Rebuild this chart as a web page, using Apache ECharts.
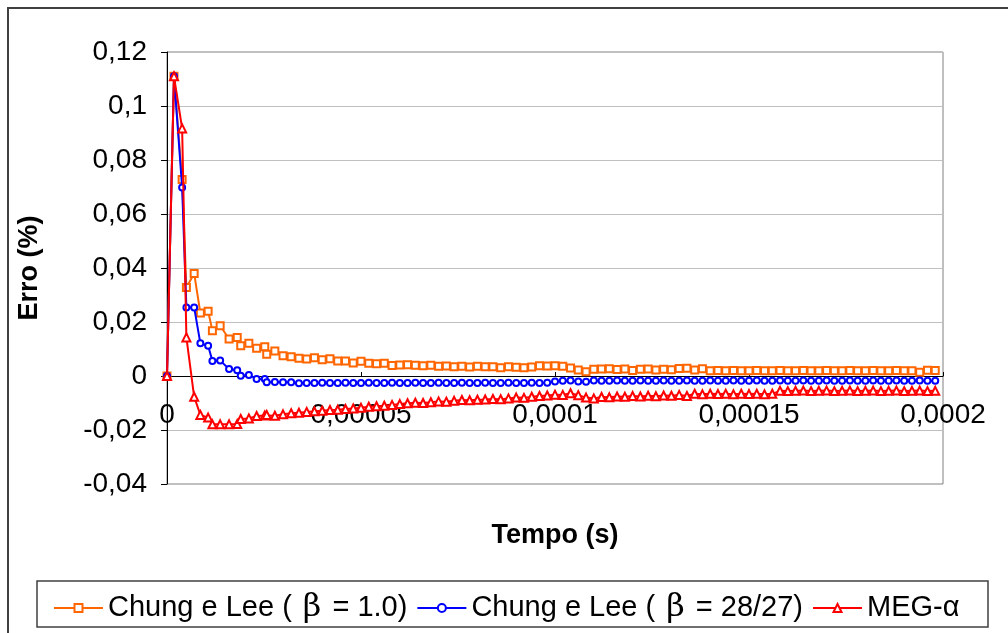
<!DOCTYPE html>
<html>
<head>
<meta charset="utf-8">
<script src="https://cdn.jsdelivr.net/npm/echarts@6/dist/echarts.min.js"></script>
<style>
  html, body { margin: 0; padding: 0; background: #fff; }
  #chart { width: 1008px; height: 633px; }
</style>
</head>
<body>
<div id="chart"></div>
<script>
// Time samples in microseconds (axis labels are shown in seconds)
const timeUs = [
    0, 1.8, 3.9, 5.0, 7.0, 8.6, 10.6, 11.7, 13.7, 16.0, 18.1, 19.0, 21.1, 23.1, 25.2, 25.7, 27.8, 29.9,
    32, 34, 36, 38, 40, 42, 44, 46, 48, 50, 52, 54, 56, 58, 60, 62, 64, 66, 68, 70,
    72, 74, 76, 78, 80, 82, 84, 86, 88, 90, 92, 94, 96, 98, 100, 102, 104, 106, 108, 110,
    112, 114, 116, 118, 120, 122, 124, 126, 128, 130, 132, 134, 136, 138, 140, 142, 144, 146, 148, 150,
    152, 154, 156, 158, 160, 162, 164, 166, 168, 170, 172, 174, 176, 178, 180, 182, 184, 186, 188, 190,
    192, 194, 196, 198
];

// Chung e Lee (beta = 1.0)
const errChung10 = [
    0, 0.111, 0.0728, 0.0328, 0.0380, 0.0233, 0.0240, 0.0168, 0.0186, 0.0137, 0.0143, 0.0112, 0.0121, 0.0103, 0.0108, 0.0081, 0.0093, 0.0075,
    0.0071, 0.0066, 0.0063, 0.0068, 0.0060, 0.0064, 0.0056, 0.0056, 0.0048, 0.0055, 0.0047, 0.0045, 0.0047, 0.0039, 0.0041, 0.0042, 0.0040, 0.0038, 0.0040, 0.0036,
    0.0037, 0.0034, 0.0036, 0.0033, 0.0036, 0.0034, 0.0034, 0.0031, 0.0034, 0.0032, 0.0031, 0.0033, 0.0038, 0.0037, 0.0038, 0.0036, 0.0030, 0.0022, 0.0016, 0.0025,
    0.0026, 0.0027, 0.0024, 0.0026, 0.0020, 0.0025, 0.0026, 0.0022, 0.0025, 0.0023, 0.0028, 0.0029, 0.0022, 0.0027, 0.0019, 0.0020, 0.0019, 0.0020, 0.0019, 0.0019,
    0.0020, 0.0019, 0.0019, 0.0020, 0.0019, 0.0019, 0.0020, 0.0019, 0.0019, 0.0020, 0.0019, 0.0019, 0.0020, 0.0019, 0.0019, 0.0020, 0.0019, 0.0019, 0.0020, 0.0019,
    0.0019, 0.0014, 0.0021, 0.0020
];

// Chung e Lee (beta = 28/27)
const errChung2827 = [
    0, 0.111, 0.0698, 0.0254, 0.0254, 0.0121, 0.0112, 0.0056, 0.0057, 0.0026, 0.0021, 0.0001, 0.0004, -0.0011, -0.0011, -0.0023, -0.0022, -0.0023,
    -0.0023, -0.0027, -0.0026, -0.0026, -0.0025, -0.0026, -0.0026, -0.0025, -0.0026, -0.0026, -0.0025, -0.0026, -0.0026, -0.0025, -0.0026, -0.0026, -0.0025, -0.0026, -0.0026, -0.0025,
    -0.0026, -0.0026, -0.0025, -0.0026, -0.0026, -0.0025, -0.0026, -0.0026, -0.0025, -0.0026, -0.0026, -0.0025, -0.0026, -0.0025, -0.0020, -0.0018, -0.0017, -0.0020, -0.0021, -0.0017,
    -0.0018, -0.0018, -0.0017, -0.0018, -0.0018, -0.0017, -0.0018, -0.0018, -0.0017, -0.0018, -0.0018, -0.0017, -0.0018, -0.0018, -0.0017, -0.0018, -0.0018, -0.0017, -0.0018, -0.0018,
    -0.0017, -0.0018, -0.0018, -0.0017, -0.0018, -0.0018, -0.0017, -0.0018, -0.0018, -0.0017, -0.0018, -0.0018, -0.0017, -0.0018, -0.0018, -0.0017, -0.0018, -0.0018, -0.0017, -0.0018,
    -0.0018, -0.0017, -0.0018, -0.0018
];

// MEG-alpha
const errMeg = [
    0, 0.111, 0.0917, 0.0143, -0.0077, -0.0144, -0.0154, -0.0179, -0.0179, -0.0179, -0.0178, -0.0159, -0.0157, -0.0148, -0.0146, -0.0144, -0.0147, -0.0142,
    -0.0138, -0.0136, -0.0133, -0.0131, -0.0129, -0.0126, -0.0125, -0.0122, -0.0120, -0.0118, -0.0114, -0.0112, -0.0110, -0.0107, -0.0104, -0.0101, -0.0099, -0.0100, -0.0097, -0.0094,
    -0.0095, -0.0092, -0.0089, -0.0090, -0.0088, -0.0087, -0.0085, -0.0086, -0.0083, -0.0080, -0.0081, -0.0077, -0.0074, -0.0072, -0.0069, -0.0070, -0.0064, -0.0071, -0.0080, -0.0083,
    -0.0078, -0.0079, -0.0076, -0.0077, -0.0074, -0.0076, -0.0073, -0.0075, -0.0072, -0.0073, -0.0070, -0.0074, -0.0066, -0.0068, -0.0066, -0.0067, -0.0066, -0.0068, -0.0066, -0.0067,
    -0.0066, -0.0068, -0.0066, -0.0055, -0.0056, -0.0055, -0.0054, -0.0056, -0.0055, -0.0054, -0.0056, -0.0055, -0.0054, -0.0056, -0.0055, -0.0054, -0.0056, -0.0055, -0.0054, -0.0056,
    -0.0055, -0.0054, -0.0056, -0.0055
];

const seriesNames = ['Chung e Lee ( β = 1.0)', 'Chung e Lee ( β = 28/27)', 'MEG-α'];
const seriesColors = ['#FF6600', '#0000FF', '#FF0000'];
const seriesSymbols = ['emptyRect', 'emptyCircle', 'emptyTriangle'];
const seriesSymbolSizes = [7, 6, 8];

const FONT = 'Liberation Sans, Arial, sans-serif';

// Excel-style decimal comma
function commaNumber(v) {
    return String(parseFloat(v.toFixed(6))).replace('.', ',');
}

function pairs(values) {
    return values.map((v, i) => [timeUs[i], v]);
}

const chart = echarts.init(document.getElementById('chart'), null, { renderer: 'canvas' });

const allValues = [errChung10, errChung2827, errMeg];

const option = {
    animation: false,
    backgroundColor: '#ffffff',
    graphic: [
        // outer chart border (right and bottom sides run off the page)
        { type: 'rect', shape: { x: 8, y: 8, width: 1100, height: 700 },
          style: { fill: null, stroke: '#404040', lineWidth: 2 }, silent: true },
        // legend box
        { type: 'rect', shape: { x: 37, y: 581, width: 951, height: 46 },
          style: { fill: '#fff', stroke: '#404040', lineWidth: 1.5 }, silent: true, z: -1 }
    ],
    grid: {
        left: 167, right: 65, top: 52, bottom: 149,
        outerBoundsMode: 'none',
        show: true, borderColor: '#808080', borderWidth: 1
    },
    legend: {
        left: 48, top: 587,
        itemWidth: 49, itemHeight: 10, itemGap: 9,
        textStyle: {
            fontFamily: FONT, fontSize: 29, color: '#000',
            rich: { b: { fontFamily: 'DejaVu Serif', fontSize: 32, color: '#000', padding: [0, 3, 0, 3] } }
        },
        formatter: name => name.replace(/β/, '{b|β}')
    },
    xAxis: {
        type: 'value',
        min: 0, max: 200, interval: 50,
        name: 'Tempo (s)',
        nameLocation: 'middle',
        nameGap: 38,
        nameTextStyle: { fontFamily: FONT, fontSize: 27, fontWeight: 'bold', color: '#000' },
        axisLine: { show: true, onZero: true, lineStyle: { color: '#000', width: 1 } },
        axisTick: { show: true, inside: true, length: 4, lineStyle: { color: '#000' } },
        axisLabel: {
            fontFamily: FONT, fontSize: 28, color: '#000', margin: -83,
            formatter: v => commaNumber(v / 1e6)
        },
        splitLine: { show: false }
    },
    yAxis: {
        type: 'value',
        min: -0.04, max: 0.12, interval: 0.02,
        name: 'Erro (%)',
        nameLocation: 'middle',
        nameGap: 124,
        nameTextStyle: { fontFamily: FONT, fontSize: 27, fontWeight: 'bold', color: '#000' },
        axisLine: { show: true, onZero: false, lineStyle: { color: '#000', width: 1 } },
        axisTick: { show: true, inside: false, length: 6, lineStyle: { color: '#000' } },
        axisLabel: {
            fontFamily: FONT, fontSize: 28, color: '#000', margin: 20,
            formatter: v => commaNumber(v)
        },
        splitLine: { show: true, lineStyle: { color: '#C0C0C0', width: 1 } }
    },
    series: seriesNames.map((name, k) => ({
        name: name,
        type: 'line',
        data: pairs(allValues[k]),
        symbol: seriesSymbols[k],
        symbolSize: seriesSymbolSizes[k],
        showAllSymbol: true,
        color: seriesColors[k],
        lineStyle: { color: seriesColors[k], width: 2 },
        itemStyle: { color: seriesColors[k], borderColor: seriesColors[k], borderWidth: 1.5 },
        z: 2 + k
    }))
};

chart.setOption(option);
</script>
</body>
</html>
